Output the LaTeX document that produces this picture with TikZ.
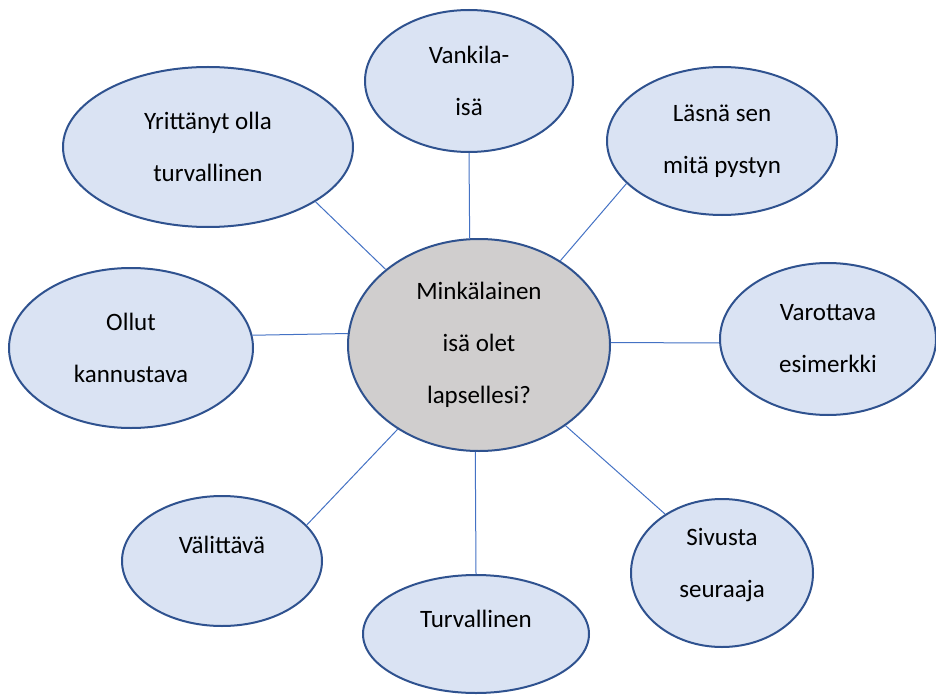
\documentclass[tikz,border=0pt]{standalone}
\usepackage{fontspec}
\setmainfont{Carlito}
\usepackage{xcolor}
\usetikzlibrary{shapes.geometric}
\definecolor{bubblefill}{HTML}{DAE3F3}
\definecolor{bubbleedge}{HTML}{2F528F}
\definecolor{corefill}{HTML}{D0CECE}
\definecolor{spokeblue}{HTML}{4472C4}

\begin{document}
\begin{tikzpicture}[
        x=1pt, y=-1pt,
        bubble/.style={ellipse, draw=bubbleedge, line width=2pt, fill=bubblefill,
            inner sep=0pt, align=center, font=\fontsize{25}{52}\selectfont},
        bubbletext/.style={inner sep=0pt, font=\fontsize{25}{52}\selectfont},
        spoke/.style={draw=spokeblue, line width=1pt}
    ]
        \useasboundingbox (0,0) rectangle (936,695);
        \node[bubble, fill=corefill, minimum width=262, minimum height=212] (isa) at (479,345) {Minkälainen\\isä olet\\lapsellesi?};
        \node[bubble, minimum width=208, minimum height=142] (vankila) at (469,81) {Vankila-\\isä};
        \node[bubble, minimum width=230, minimum height=148] (lasna) at (722,141) {Läsnä sen\\mitä pystyn};
        \node[bubble, minimum width=290, minimum height=160] (yrittanyt) at (208,147) {Yrittänyt olla\\turvallinen};
        \node[bubble, minimum width=244, minimum height=160] (ollut) at (131,348) {Ollut\\kannustava};
        \node[bubble, minimum width=216, minimum height=152] (varottava) at (828,339) {Varottava\\esimerkki};
        \node[bubble, minimum width=182, minimum height=148] (sivusta) at (722,573) {};
        \node[bubbletext, align=center, yshift=8] (sivustatext) at (722,573) {Sivusta\\seuraaja};
        \node[bubble, minimum width=200, minimum height=130] (valittava) at (222,561) {};
        \node[bubbletext] (valittavatext) at (222,545) {Välittävä};
        \node[bubble, minimum width=226, minimum height=118] (turvallinen) at (476,634) {};
        \node[bubbletext] (turvallinentext) at (476,619) {Turvallinen};
        % spokes
        \draw[spoke] (vankila.-90) -- (isa.95);
        \draw[spoke] (lasna.204) -- (isa.46);
        \draw[spoke] (yrittanyt.-27) -- (isa.141);
        \draw[spoke] (ollut.6) -- (isa.175.6);
        \draw[spoke] (varottava.182) -- (isa.1.3);
        \draw[spoke] (valittava.23) -- (isa.226);
        \draw[spoke] (turvallinen.90) -- (isa.268);
        \draw[spoke] (sivusta.134) -- (isa.-43);
    \end{tikzpicture}
\end{document}
